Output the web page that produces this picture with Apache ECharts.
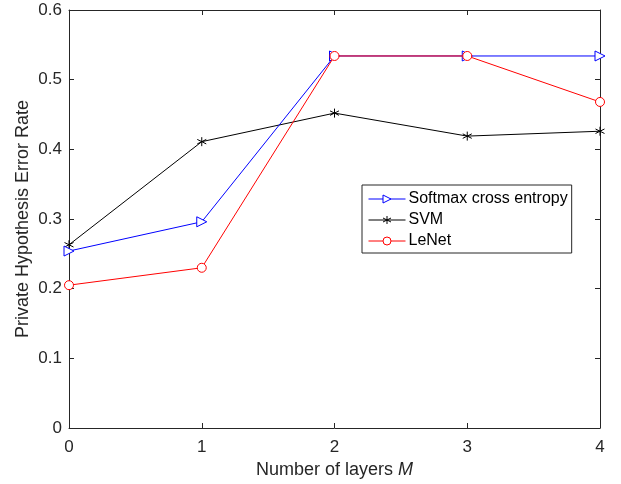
<!DOCTYPE html>
<html>
<head>
<meta charset="utf-8">
<script src="https://cdn.jsdelivr.net/npm/echarts@6/dist/echarts.min.js"></script>
<style>
  html, body { margin: 0; padding: 0; background: #fff; }
  #chart { width: 621px; height: 484px; }
</style>
</head>
<body>
<div id="chart"></div>
<script>
var layers = [0, 1, 2, 3, 4];
var softmax = [0.254, 0.296, 0.534, 0.534, 0.534];
var svm = [0.263, 0.411, 0.452, 0.419, 0.426];
var lenet = [0.205, 0.230, 0.534, 0.534, 0.468];
var seriesNames = ["Softmax cross entropy", "SVM", "LeNet"];

function pairs(vals) {
  return vals.map(function (v, i) { return [layers[i], v]; });
}

var myChart = echarts.init(document.getElementById("chart"));
var font = "Liberation Sans, Arial, sans-serif";
var axisColor = "#262626";
var asterisk = "path://M0,-5L0,5M-4.33,-2.5L4.33,2.5M-4.33,2.5L4.33,-2.5";

function boxAxis(extra) {
  return Object.assign({
    axisLine: { show: true, onZero: false, lineStyle: { color: axisColor, width: 1 } },
    axisTick: { show: true, inside: true, length: 5, lineStyle: { color: axisColor } },
    splitLine: { show: false },
    axisLabel: { show: false }
  }, extra);
}

var option = {
  animation: false,
  textStyle: { fontFamily: font },
  grid: { left: 69, right: 21, top: 10, bottom: 56, containLabel: false, outerBoundsMode: "none" },
  legend: {
    orient: "vertical",
    left: 362, top: 185,
    itemWidth: 37, itemHeight: 10, itemGap: 5,
    padding: [6, 4, 4, 6],
    borderColor: axisColor, borderWidth: 1, backgroundColor: "#fff",
    lineStyle: { width: 1 },
    itemStyle: { borderWidth: 1 },
    textStyle: { fontSize: 16, color: "#000", fontFamily: font, padding: [0, 0, 0, -2] },
    data: seriesNames
  },
  xAxis: [
    boxAxis({
      type: "value", min: 0, max: 4, interval: 1, position: "bottom",
      axisLabel: { show: true, fontSize: 17, color: axisColor, margin: 11 },
      name: "{n|Number of layers }{m|M}",
      nameLocation: "middle", nameGap: 32,
      nameTextStyle: {
        rich: {
          n: { fontSize: 18, color: axisColor, fontFamily: font },
          m: { fontSize: 18, color: axisColor, fontStyle: "italic", fontFamily: font }
        }
      }
    }),
    boxAxis({ type: "value", min: 0, max: 4, interval: 1, position: "top" })
  ],
  yAxis: [
    boxAxis({
      type: "value", min: 0, max: 0.6, interval: 0.1, position: "left",
      axisLabel: { show: true, fontSize: 17, color: axisColor, margin: 7 },
      name: "Private Hypothesis Error Rate",
      nameLocation: "middle", nameGap: 37, nameRotate: 90, nameMoveOverlap: false,
      nameTextStyle: { fontSize: 18, color: axisColor, fontFamily: font }
    }),
    boxAxis({ type: "value", min: 0, max: 0.6, interval: 0.1, position: "right" })
  ],
  series: [
    {
      name: seriesNames[0], type: "line", data: pairs(softmax),
      symbol: "triangle", symbolRotate: -90, symbolSize: 10,
      lineStyle: { color: "#0000ff", width: 1 },
      itemStyle: { color: "#fff", borderColor: "#0000ff", borderWidth: 1 },
      z: 3
    },
    {
      name: seriesNames[1], type: "line", data: pairs(svm),
      symbol: asterisk, symbolSize: 9,
      lineStyle: { color: "#000", width: 1 },
      itemStyle: { color: "#000", borderColor: "#000", borderWidth: 1 },
      z: 2
    },
    {
      name: seriesNames[2], type: "line", data: pairs(lenet),
      symbol: "circle", symbolSize: 9,
      lineStyle: { color: "#ff0000", width: 1 },
      itemStyle: { color: "#fff", borderColor: "#ff0000", borderWidth: 1 },
      z: 4
    }
  ]
};
myChart.setOption(option);
</script>
</body>
</html>
